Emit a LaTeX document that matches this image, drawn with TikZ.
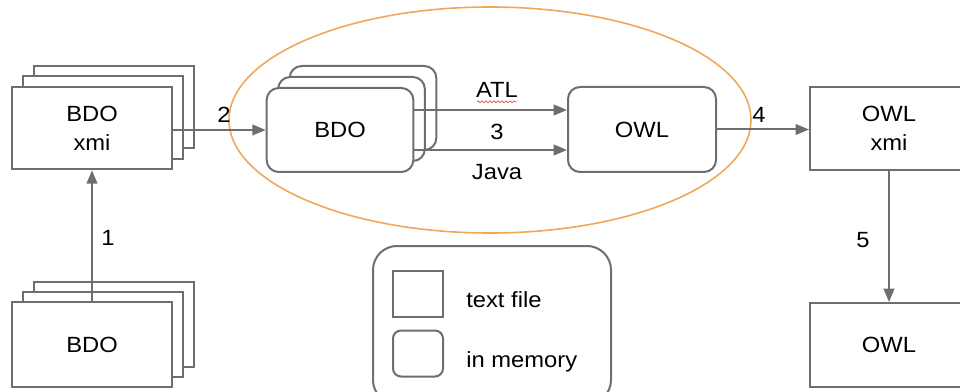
\documentclass[tikz,border=0pt]{standalone}
\usepackage{fontspec}
\setmainfont{Liberation Sans}[FakeStretch=1.08]
\usetikzlibrary{arrows.meta,calc,decorations.pathmorphing}
\definecolor{linegrey}{HTML}{6E6E6E}
\definecolor{ringorange}{HTML}{F2A65A}
\definecolor{spellred}{HTML}{E06060}

\begin{document}
\begin{tikzpicture}[x=0.75pt,y=-0.75pt,
  every node/.style={font=\fontsize{16.5}{22}\selectfont, text=black},
  filebox/.style={draw=linegrey, line width=1.5pt, fill=white,
    minimum width=120pt, minimum height=62pt, inner sep=0pt, align=center},
  membox/.style={filebox, rounded corners=9pt,
    minimum width=110pt, minimum height=63pt},
  conn/.style={draw=linegrey, line width=1.5pt,
    -{Triangle[length=10pt,width=8pt]}},
  lbl/.style={inner sep=0pt}
]
\clip (0,0) rectangle (960,392);

% grouping ring around the in-memory transformation
\draw[ringorange, line width=1.2pt] (490,120) ellipse [x radius=195.75pt, y radius=84.75pt];

% BDO xmi stack (text files)
\node[filebox] (xmiC) at (114,107) {};
\node[filebox] (xmiB) at (103,117.5) {};
\node[filebox] (xmi)  at (92,128) {BDO\\xmi};

% BDO source stack (text files)
\node[filebox, minimum height=63.75pt] (srcC) at (114,324) {};
\node[filebox, minimum height=63.75pt] (srcB) at (103,334.5) {};
\node[filebox, minimum height=63.75pt] (src)  at (92,344.5) {BDO};

% BDO in-memory stack
\node[membox] (bdoC) at (363,108) {};
\node[membox] (bdoB) at (351.5,119) {};
\node[membox] (bdo)  at (340,130) {BDO};

% OWL in memory
\node[membox, minimum width=111pt, minimum height=63.75pt] (owl) at (642,129.5) {OWL};

% OWL xmi and OWL output files
\node[filebox, minimum width=118.5pt] (owlxmi) at (889,128.5) {OWL\\xmi};
\node[filebox, minimum width=118.5pt, minimum height=63pt] (owlout) at (889,345) {OWL};

% legend
\node[draw=linegrey, line width=1.5pt, rounded corners=18pt,
      minimum width=178.5pt, minimum height=118.5pt] (legend) at (492,325) {};
\node[draw=linegrey, line width=1.5pt, minimum width=37.5pt,
      minimum height=34.5pt] (keyfile) at (418,294) {};
\node[draw=linegrey, line width=1.5pt, rounded corners=6pt, minimum width=37.5pt,
      minimum height=34.5pt] (keymem) at (418,353.5) {};
\node[lbl, anchor=base west] (keyfiletext) at (466,307) {text file};
\node[lbl, anchor=base west] (keymemtext) at (466,367) {in memory};

% connectors
\draw[conn] (src.north) -- (xmi.south);
\draw[conn] (xmi.east |- bdo.west) -- (bdo.west);
\draw[conn] ($(bdo.east)+(0,-20)$) coordinate (atlstart) -- (owl.west |- atlstart);
\draw[conn] ($(bdo.east)+(0,20)$) coordinate (javastart) -- (owl.west |- javastart);
\draw[conn] (owl.east) -- (owlxmi.west |- owl.east);
\draw[conn] (owlxmi.south) -- (owlout.north);

% connector labels
\node[lbl] (n1) at (108,238) {1};
\node[lbl] (n2) at (224,115) {2};
\node[lbl] (atl) at (497,90) {ATL};
\node[lbl] (n3) at (497,132) {3};
\node[lbl] (java) at (497,172) {Java};
\node[lbl] (n4) at (759,115) {4};
\node[lbl] (n5) at (863,240) {5};

% wavy underline beneath ATL
\draw[spellred, line width=0.6pt, decorate,
      decoration={snake, amplitude=0.7pt, segment length=3pt}]
  ($(atl.south west)+(1,4)$) -- ($(atl.south east)+(-1,4)$);
\end{tikzpicture}
\end{document}
